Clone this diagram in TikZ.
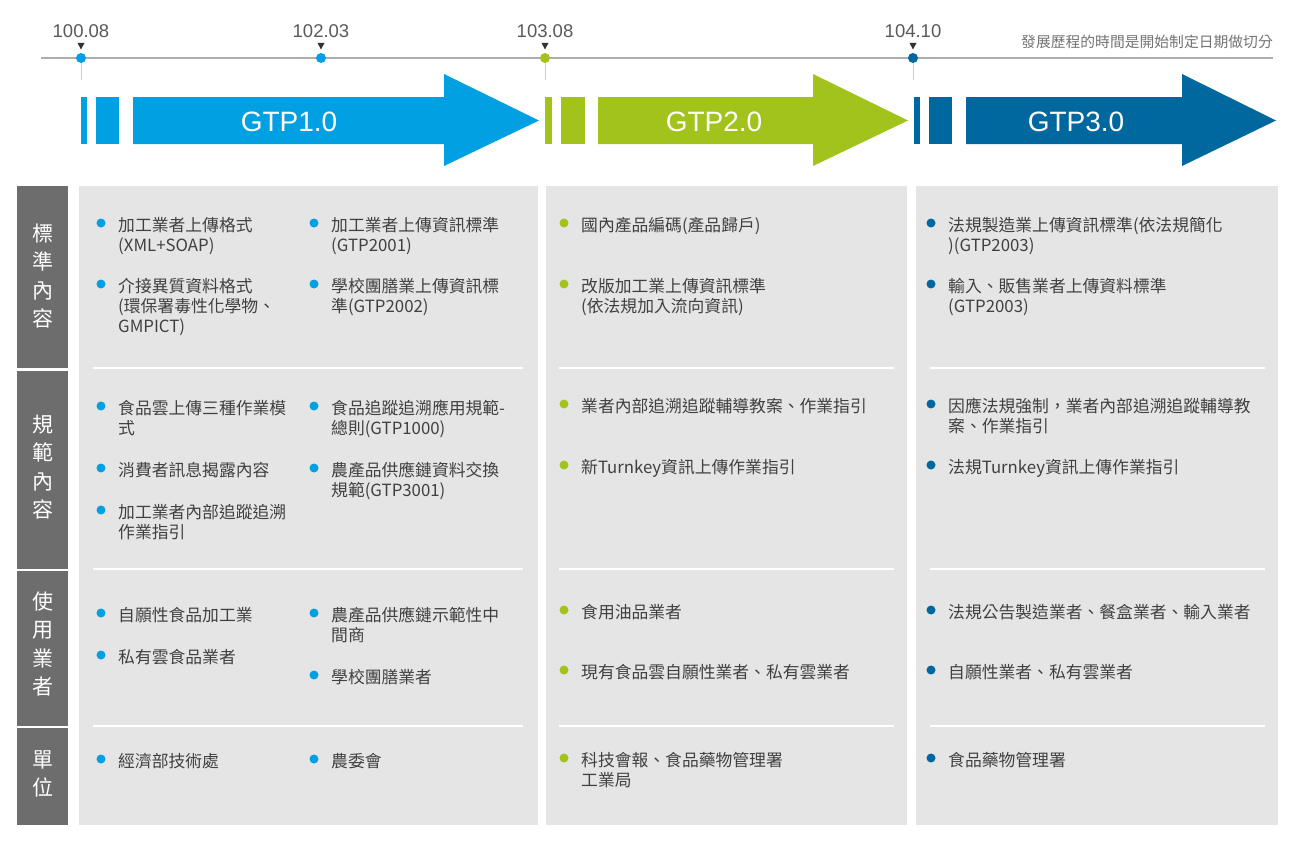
\documentclass[tikz,border=0pt]{standalone}
\usepackage{fontspec}
\setmainfont{Liberation Sans}
\newfontfamily\cjk{Noto Sans CJK TC}
\usepackage{tikz}
\usetikzlibrary{calc}
\definecolor{gtpblue}{RGB}{0, 160, 227}
\definecolor{gtpgreen}{RGB}{162, 195, 28}
\definecolor{gtpnavy}{RGB}{0, 104, 158}
\definecolor{panelgray}{RGB}{229, 229, 229}
\definecolor{headgray}{RGB}{109, 109, 109}
\definecolor{textgray}{RGB}{64, 64, 64}

% one bullet entry: name, colour, x, y (centre of first line), text
\newcommand{\gtpitem}[5]{%
  \node[bullet, fill=#2] (#1-dot) at (#3-17, #4-2) {};
  \node[itemtext] (#1) at (#3, #4+6) {#5};}

\begin{document}
\begin{tikzpicture}[x=1pt, y=-1pt,
  itemtext/.style={anchor=base west, inner sep=0, text width=330, align=left,
    text=textgray, font=\cjk\fontsize{16.8}{20}\selectfont},
  bullet/.style={circle, inner sep=0, minimum size=9},
  rowhead/.style={text=white, align=center, inner sep=0,
    font=\cjk\fontsize{21}{28.5}\selectfont},
  datelabel/.style={text=black!65, font=\fontsize{18.5}{20}\selectfont},
  phase/.style={text=white, font=\fontsize{28}{30}\selectfont},
  tick/.style={circle, inner sep=0, minimum size=10}]

  \useasboundingbox (0, 0) rectangle (1295, 851);

  % Timeline
  \draw[black!32, line width=1.3] (41, 58) -- (1273, 58);
  \draw[black!20] (81, 58) -- (81, 80);
  \draw[black!20] (545, 58) -- (545, 80);
  \draw[black!20] (913, 58) -- (913, 80);
  \node[tick, fill=gtpblue] (t1) at (81, 58) {};
  \node[tick, fill=gtpblue] (t2) at (321, 58) {};
  \node[tick, fill=gtpgreen] (t3) at (545, 58) {};
  \node[tick, fill=gtpnavy] (t4) at (913, 58) {};
  \foreach \tx in {81, 321, 545, 913}
    \fill[black!80] (\tx-3.5, 43) -- (\tx+3.5, 43) -- (\tx, 49.5) -- cycle;
  \node[datelabel] (d1) at (81, 31.5) {100.08};
  \node[datelabel] (d2) at (321, 31.5) {102.03};
  \node[datelabel] (d3) at (545, 31.5) {103.08};
  \node[datelabel] (d4) at (913, 31.5) {104.10};
  \node[anchor=east, text=black!55, inner sep=0, font=\cjk\fontsize{14.8}{16}\selectfont]
    (note) at (1273, 42) {發展歷程的時間是開始制定日期做切分};

  % Phase arrows
  \fill[gtpblue] (81, 97) rectangle (87, 144);
  \fill[gtpblue] (96, 97) rectangle (119, 144);
  \fill[gtpblue] (133, 97) -- (444, 97) -- (444, 74) -- (539, 120.5)
    -- (444, 166) -- (444, 144) -- (133, 144) -- cycle;
  \fill[gtpgreen] (545, 97) rectangle (552, 144);
  \fill[gtpgreen] (561, 97) rectangle (585, 144);
  \fill[gtpgreen] (598, 97) -- (813, 97) -- (813, 74) -- (908, 120.5)
    -- (813, 166) -- (813, 144) -- (598, 144) -- cycle;
  \fill[gtpnavy] (914, 97) rectangle (920, 144);
  \fill[gtpnavy] (929, 97) rectangle (952, 144);
  \fill[gtpnavy] (966, 97) -- (1182, 97) -- (1182, 74) -- (1276, 120.5)
    -- (1182, 166) -- (1182, 144) -- (966, 144) -- cycle;
  \node[phase] (g1) at (289, 122) {GTP1.0};
  \node[phase] (g2) at (714, 122) {GTP2.0};
  \node[phase] (g3) at (1076, 122) {GTP3.0};

  % Panels and row separators
  \fill[panelgray] (79, 186) rectangle (538, 825);
  \fill[panelgray] (546, 186) rectangle (907, 825);
  \fill[panelgray] (916, 186) rectangle (1278, 825);
  \foreach \sy in {368, 569, 726} {
    \draw[white, line width=1.5] (93, \sy) -- (523, \sy);
    \draw[white, line width=1.5] (559, \sy) -- (894, \sy);
    \draw[white, line width=1.5] (930, \sy) -- (1265, \sy);
  }

  % Row headers
  \fill[headgray] (17, 186) rectangle (68, 368);
  \fill[headgray] (17, 371) rectangle (68, 569);
  \fill[headgray] (17, 571) rectangle (68, 726);
  \fill[headgray] (17, 728) rectangle (68, 825);
  \node[rowhead] (h1) at (43, 276) {標\\準\\內\\容};
  \node[rowhead] (h2) at (43, 467) {規\\範\\內\\容};
  \node[rowhead] (h3) at (43, 644) {使\\用\\業\\者};
  \node[rowhead] (h4) at (43, 774) {單\\位};

  % GTP1.0
  \gtpitem{a1}{gtpblue}{118}{225}{加工業者上傳格式\\(XML+SOAP)}
  \gtpitem{a2}{gtpblue}{118}{286}{介接異質資料格式\\(環保署毒性化學物、\\GMPICT)}
  \gtpitem{a3}{gtpblue}{331}{225}{加工業者上傳資訊標準\\(GTP2001)}
  \gtpitem{a4}{gtpblue}{331}{286}{學校團膳業上傳資訊標\\準(GTP2002)}
  \gtpitem{a5}{gtpblue}{118}{408}{食品雲上傳三種作業模\\式}
  \gtpitem{a6}{gtpblue}{118}{470}{消費者訊息揭露內容}
  \gtpitem{a7}{gtpblue}{118}{512}{加工業者內部追蹤追溯\\作業指引}
  \gtpitem{a8}{gtpblue}{331}{408}{食品追蹤追溯應用規範-\\總則(GTP1000)}
  \gtpitem{a9}{gtpblue}{331}{470}{農產品供應鏈資料交換\\規範(GTP3001)}
  \gtpitem{a10}{gtpblue}{118}{615}{自願性食品加工業}
  \gtpitem{a11}{gtpblue}{118}{657}{私有雲食品業者}
  \gtpitem{a12}{gtpblue}{331}{615}{農產品供應鏈示範性中\\間商}
  \gtpitem{a13}{gtpblue}{331}{677}{學校團膳業者}
  \gtpitem{a14}{gtpblue}{118}{761}{經濟部技術處}
  \gtpitem{a15}{gtpblue}{331}{761}{農委會}

  % GTP2.0
  \gtpitem{b1}{gtpgreen}{581}{225}{國內產品編碼(產品歸戶)}
  \gtpitem{b2}{gtpgreen}{581}{286}{改版加工業上傳資訊標準\\(依法規加入流向資訊)}
  \gtpitem{b3}{gtpgreen}{581}{406}{業者內部追溯追蹤輔導教案、作業指引}
  \gtpitem{b4}{gtpgreen}{581}{467}{新Turnkey資訊上傳作業指引}
  \gtpitem{b5}{gtpgreen}{581}{612}{食用油品業者}
  \gtpitem{b6}{gtpgreen}{581}{672}{現有食品雲自願性業者、私有雲業者}
  \gtpitem{b7}{gtpgreen}{581}{760}{科技會報、食品藥物管理署\\工業局}

  % GTP3.0
  \gtpitem{c1}{gtpnavy}{948}{225}{法規製造業上傳資訊標準(依法規簡化\\)(GTP2003)}
  \gtpitem{c2}{gtpnavy}{948}{286}{輸入、販售業者上傳資料標準\\(GTP2003)}
  \gtpitem{c3}{gtpnavy}{948}{406}{因應法規強制，業者內部追溯追蹤輔導教\\案、作業指引}
  \gtpitem{c4}{gtpnavy}{948}{467}{法規Turnkey資訊上傳作業指引}
  \gtpitem{c5}{gtpnavy}{948}{612}{法規公告製造業者、餐盒業者、輸入業者}
  \gtpitem{c6}{gtpnavy}{948}{672}{自願性業者、私有雲業者}
  \gtpitem{c7}{gtpnavy}{948}{760}{食品藥物管理署}

\end{tikzpicture}
\end{document}
